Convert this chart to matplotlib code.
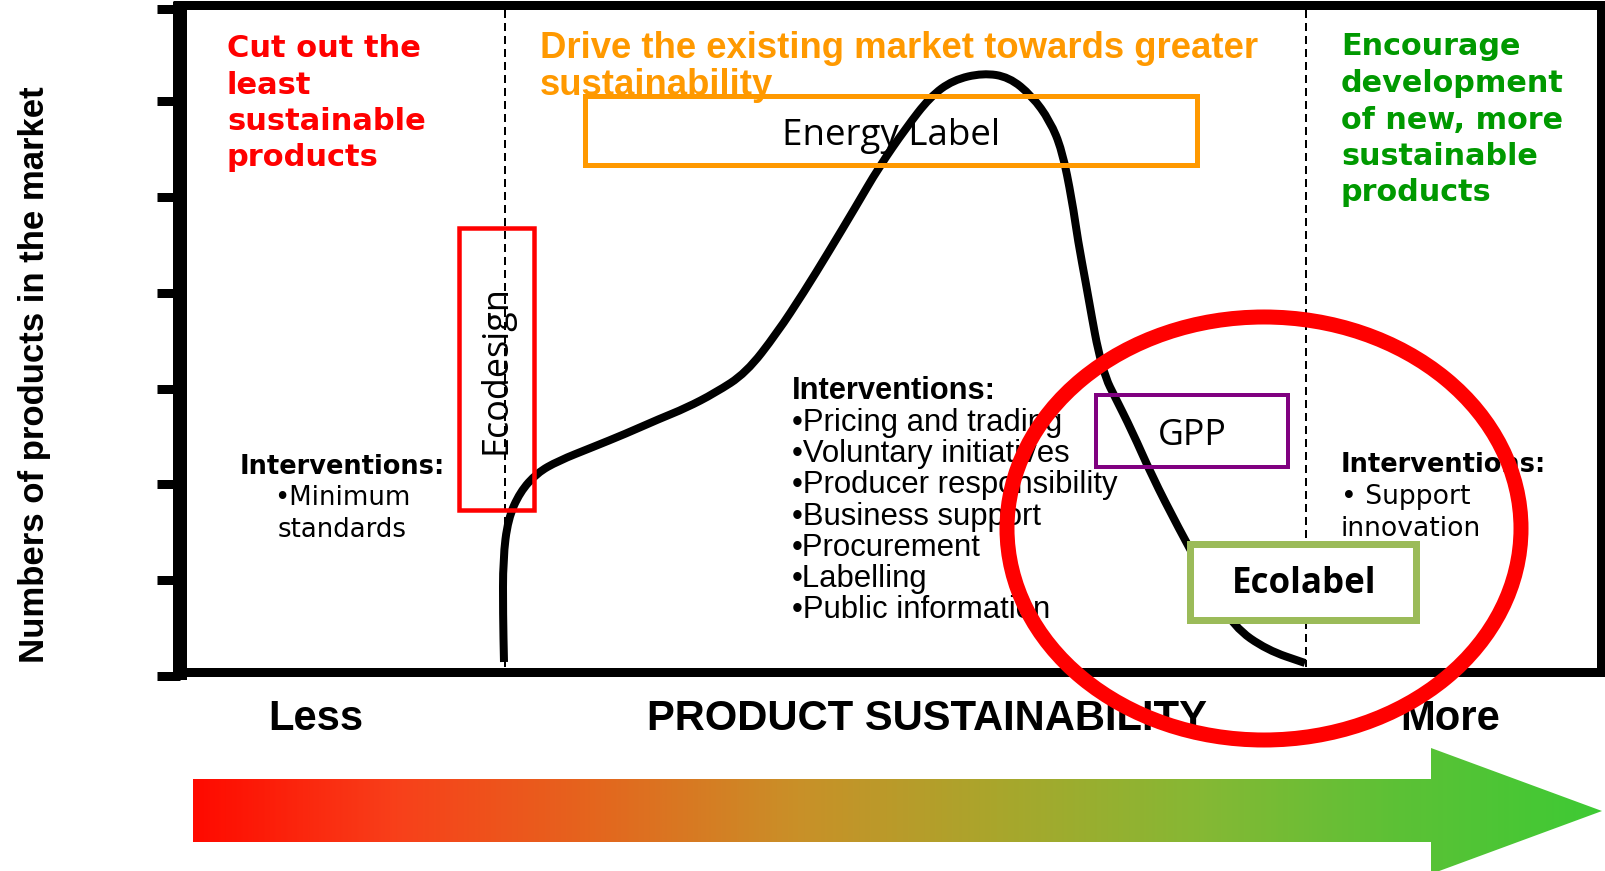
import numpy as np
import matplotlib
matplotlib.use('Agg')
import matplotlib.pyplot as plt
from matplotlib.patches import Rectangle, Ellipse, Polygon, PathPatch
from matplotlib.path import Path
from matplotlib.colors import LinearSegmentedColormap


# curva de numero de productos segun sostenibilidad (coordenadas del dibujo, en px)
curve_x = [504, 503, 503, 508, 520, 537, 558, 593, 625, 659, 686, 715, 746, 777,
           804, 828, 855, 879, 906, 930, 953, 983, 1009, 1032, 1050, 1062, 1072,
           1078, 1086, 1092, 1098, 1106, 1114, 1132, 1152, 1178, 1209, 1234, 1267, 1305]
curve_y = [662, 615, 559, 519, 492, 473, 461, 447, 434, 419, 408, 393, 373, 333,
           292, 253, 208, 167, 128, 97, 80, 73, 77, 96, 121, 150, 200,
           241, 284, 318, 350, 379, 395, 431, 476, 527, 584, 627, 650, 663]

# marcas del eje y
tick_y = [9, 101, 197, 293, 389, 484, 580, 675.5]

# limites entre zonas
zone_x = [505, 1306]

# textos
red_lines = ['Cut out the', 'least', 'sustainable', 'products']
orange_lines = ['Drive the existing market towards greater', 'sustainability']
green_lines = ['Encourage', 'development', 'of new, more', 'sustainable', 'products']
left_items = ['\u2022Minimum', 'standards']
mid_items = ['\u2022Pricing and trading', '\u2022Voluntary initiatives',
             '\u2022Producer responsibility', '\u2022Business support',
             '\u2022Procurement', '\u2022Labelling', '\u2022Public information']
right_items = ['\u2022 Support', 'innovation']
bottom_labels = ['Less', 'PRODUCT SUSTAINABILITY', 'More']
bottom_centers = [315.5, 927, 1450]

# colores de la flecha (rojo -> verde)
arrow_colors = ['#FF0A00', '#F8401A', '#E4661E', '#C99028', '#A9A62C',
                '#86B834', '#5CC136', '#3ECA34']

PX = 0.72  # puntos por pixel a dpi 100
WIDE = 'DejaVu Sans'
NARROW = ['Liberation Sans']
LABEL = ['Open Sans', 'DejaVu Sans']

fig = plt.figure(figsize=(16.06, 8.71), dpi=100)
ax = fig.add_axes([0, 0, 1, 1])
ax.set_xlim(0, 1606)
ax.set_ylim(871, 0)
ax.axis('off')
renderer = fig.canvas.get_renderer()


#ajusta el tamaño de letra para que la linea mas ancha mida "width" px
def fit_lines(lines, xs, ys, width, ha='left', **kw):
    if not isinstance(xs, list):
        xs = [xs] * len(lines)
    texts = [ax.text(x, y, s, ha=ha, va='baseline', fontsize=20, **kw)
             for x, y, s in zip(xs, ys, lines)]
    w = max(t.get_window_extent(renderer).width for t in texts)
    for t in texts:
        t.set_fontsize(20 * width / w)
    return texts


def fit_vertical(x, y, s, length, **kw):
    t = ax.text(x, y, s, rotation=90, rotation_mode='anchor', ha='center',
                va='baseline', fontsize=20, **kw)
    h = t.get_window_extent(renderer).height
    t.set_fontsize(20 * length / h)
    return t


#camino suave (bezier cuadratico por los puntos medios)
def smooth_path(xs, ys):
    pts = list(zip(xs, ys))
    verts = [pts[0], ((pts[0][0] + pts[1][0]) / 2, (pts[0][1] + pts[1][1]) / 2)]
    codes = [Path.MOVETO, Path.LINETO]
    for i in range(1, len(pts) - 1):
        mid = ((pts[i][0] + pts[i + 1][0]) / 2, (pts[i][1] + pts[i + 1][1]) / 2)
        verts += [pts[i], mid]
        codes += [Path.CURVE3, Path.CURVE3]
    verts.append(pts[-1])
    codes.append(Path.LINETO)
    return Path(verts, codes)


# marco
ax.plot([180, 180], [2, 680], color='black', lw=14 * PX, solid_capstyle='butt', zorder=5)
ax.plot([173, 1606], [5.5, 5.5], color='black', lw=9 * PX, solid_capstyle='butt', zorder=5)
ax.plot([1601.5, 1601.5], [1, 676], color='black', lw=9 * PX, solid_capstyle='butt', zorder=5)
ax.plot([173, 1606], [671.5, 671.5], color='black', lw=9 * PX, solid_capstyle='butt', zorder=5)
for ty in tick_y:
    ax.plot([157, 180], [ty, ty], color='black', lw=9 * PX, solid_capstyle='butt', zorder=5)

# separadores de zona
for zx in zone_x:
    ax.plot([zx, zx], [10, 667], color='black', lw=2 * PX, linestyle=(0, (4, 2.5)), zorder=1)

# textos de cabecera
fit_lines(red_lines, 227, [57, 94, 130, 166], 199, color='#FF0000',
          family=WIDE, fontweight='bold')
fit_lines(orange_lines, 540, [58, 95], 716, color='#FF9900',
          family=NARROW, fontweight='bold')
fit_lines(green_lines, 1341, [55, 92, 129, 165, 201], 223, color='#009900',
          family=WIDE, fontweight='bold')

# intervenciones
fit_lines(['Interventions:'], 342, [474], 205, ha='center', family=WIDE,
          fontweight='bold', color='black')
fit_lines(left_items, 342, [505, 537], 136, ha='center', family=WIDE, color='black')

fit_lines(['Interventions:'], 792, [399], 204, family=NARROW,
          fontweight='bold', color='black')
fit_lines(mid_items, 792, [431 + i * 31.2 for i in range(len(mid_items))], 326,
          family=NARROW, color='black')

fit_lines(['Interventions:'], 1341, [472], 205, family=WIDE,
          fontweight='bold', color='black')
fit_lines(right_items, 1341, [504, 536], 140, family=WIDE, color='black')

# curva
ax.add_patch(PathPatch(smooth_path(curve_x, curve_y), fill=False, ec='black',
                       lw=8 * PX, joinstyle='round', capstyle='butt', zorder=3))

# cajas de instrumentos
ax.add_patch(Rectangle((585.5, 96.5), 612, 69, fill=False, ec='#FF9900', lw=5 * PX, zorder=4))
fit_lines(['Energy Label'], 891, [145], 218, ha='center', family=LABEL,
          color='black', zorder=2)

ax.add_patch(Rectangle((459.5, 228), 75, 282, fill=False, ec='#FF0000', lw=4.5 * PX, zorder=4))
fit_vertical(506, 370, 'Ecodesign', 168, family=LABEL, color='black', zorder=2)

ax.add_patch(Rectangle((1096, 395), 192, 72, fill=False, ec='#800080', lw=4 * PX, zorder=4))
fit_lines(['GPP'], 1192, [445], 69, ha='center', family=LABEL, color='black', zorder=2)

ax.add_patch(Rectangle((1190.5, 543.5), 226, 76, fc='white', ec='#9BBB59', lw=7 * PX, zorder=6))
fit_lines(['Ecolabel'], 1304, [593], 144, ha='center', family=LABEL,
          fontweight='bold', color='black', zorder=7)

# etiquetas de los ejes
fit_vertical(44, 375, 'Numbers of products in the market', 577,
             family=['Liberation Sans Narrow', 'Liberation Sans'],
             fontweight='bold', color='black')
bl = fit_lines([bottom_labels[1]], bottom_centers[1], [730], 560, ha='center',
               family=NARROW, fontweight='bold', color='black')
size = bl[0].get_fontsize()
for lab, cx in zip([bottom_labels[0], bottom_labels[2]], [bottom_centers[0], bottom_centers[2]]):
    ax.text(cx, 730, lab, ha='center', va='baseline', fontsize=size,
            family=NARROW, fontweight='bold', color='black')

# elipse roja
ax.add_patch(Ellipse((1264, 528.5), 514, 423, fill=False, ec='#FF0000', lw=15 * PX, zorder=8))

# flecha con degradado
arrow = Polygon([(193, 779), (1431, 779), (1431, 748), (1602, 811),
                 (1431, 874), (1431, 842), (193, 842)], closed=True,
                fc='none', ec='none', transform=ax.transData)
ax.add_patch(arrow)
cmap = LinearSegmentedColormap.from_list('sust', arrow_colors)
grad = np.linspace(0, 1, 512).reshape(1, -1)
im = ax.imshow(grad, cmap=cmap, extent=(193, 1602, 874, 748), aspect='auto',
               interpolation='bilinear', zorder=2)
im.set_clip_path(arrow)
ax.set_xlim(0, 1606)
ax.set_ylim(871, 0)

fig.savefig('out.png', dpi=100)
